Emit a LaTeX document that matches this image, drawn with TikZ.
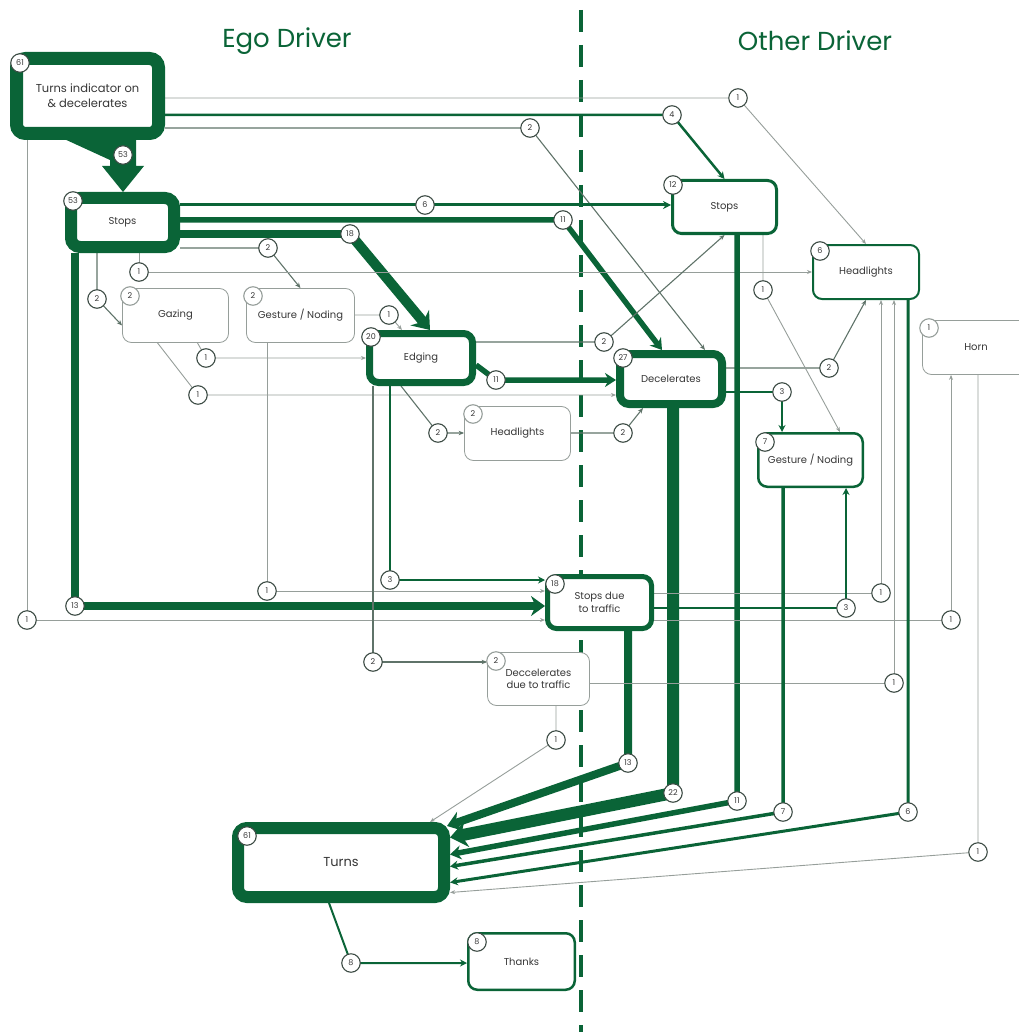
\documentclass[tikz,border=0pt]{standalone}
\usepackage{fontspec}
\setmainfont{Poppins}
\usetikzlibrary{arrows.meta,calc}
\definecolor{G}{RGB}{10,100,55}
\definecolor{lgr}{RGB}{150,158,154}
\definecolor{mgr}{RGB}{95,115,105}
\definecolor{bd}{RGB}{60,75,68}
\definecolor{txt}{RGB}{55,55,55}
\pgfdeclarelayer{dashl}
\pgfdeclarelayer{bg}
\pgfsetlayers{dashl,bg,main}
\begin{document}
\begin{tikzpicture}[x=1pt,y=-1pt,
  box/.style={draw=G, fill=white, rounded corners=9pt, align=center, inner sep=2pt,
    font=\fontsize{10}{12.5}\selectfont, text=txt},
  thinbox/.style={box, draw=lgr, line width=0.8pt},
  badge/.style={circle, draw=bd, fill=white, line width=1.1pt, minimum size=18.5pt, inner sep=0pt,
    font=\fontsize{8}{8}\selectfont, text=txt},
  lbadge/.style={badge, draw=lgr},
  w1/.style={draw=lgr, line width=0.9pt, -{Stealth[length=5pt,width=4pt]}},
  w2/.style={draw=mgr, line width=1.1pt, -{Stealth[length=5.5pt,width=4.5pt]}},
  w3/.style={draw=G, line width=2pt, -{Stealth[length=7pt,width=7pt]}},
  w4/.style={draw=G, line width=2.5pt, -{Stealth[length=7pt,width=7pt]}},
  w6/.style={draw=G, line width=3pt, -{Stealth[length=8pt,width=8pt]}},
  w7/.style={draw=G, line width=3.5pt, -{Stealth[length=8pt,width=9pt]}},
  w11/.style={draw=G, line width=5.5pt, -{Stealth[length=11pt,width=14pt]}},
  w13/.style={draw=G, line width=8pt, -{Stealth[length=14pt,width=20pt]}},
  w18/.style={draw=G, line width=10pt, -{Stealth[length=16pt,width=24pt]}},
  w22/.style={draw=G, line width=12pt, -{Stealth[length=17pt,width=26pt]}},
  title/.style={font=\fontsize{26}{30}\selectfont, text=G}
]
\useasboundingbox (0,0) rectangle (1018,1032);

% titles
\node[title] (tego) at (287,41) {Ego Driver};
\node[title] (toth) at (815,41) {Other Driver};

% separator
\coordinate (sepT) at (581,10);
\coordinate (sepB) at (581,1032);
\begin{pgfonlayer}{dashl}
\draw[G, line width=4pt, dash pattern=on 22pt off 13pt] (sepT) -- (sepB);
\end{pgfonlayer}

% boxes
\node[box, line width=13pt, minimum width=142pt, minimum height=75pt,
      font=\fontsize{11.5}{15}\selectfont] (init) at (87.5,96) {Turns indicator on\\\& decelerates};
\node[box, line width=12pt, minimum width=103pt, minimum height=49pt] (stops) at (122.5,222.5) {Stops};
\node[box, line width=12pt, minimum width=206pt, minimum height=69pt,
      font=\fontsize{13}{15}\selectfont] (turns) at (341,862.5) {Turns};
\node[box, line width=8pt, minimum width=102pt, minimum height=50pt] (dec) at (671,379) {Decelerates};
\node[box, line width=7pt, minimum width=103pt, minimum height=49pt] (edg) at (421,358) {Edging};
\node[box, line width=5pt, minimum width=104pt, minimum height=52pt] (std) at (599.5,602.5) {Stops due\\to traffic};
\node[box, line width=3pt, minimum width=104pt, minimum height=53pt] (ostops) at (724.5,207) {Stops};
\node[box, line width=2.5pt, minimum width=106.5pt, minimum height=56.5pt] (thanks) at (521.5,961.5) {Thanks};
\node[box, line width=2.5pt, minimum width=104.5pt, minimum height=53.5pt] (geso) at (810.5,460) {Gesture / Noding};
\node[box, line width=2pt, minimum width=106pt, minimum height=54pt] (ohl) at (866,272) {Headlights};
\node[thinbox, minimum width=107pt, minimum height=54pt] (horn) at (976,347.5) {Horn};
\node[thinbox, minimum width=106pt, minimum height=54pt] (gaz) at (175.5,315.5) {Gazing};
\node[thinbox, minimum width=108pt, minimum height=54pt] (gese) at (300.5,315.5) {Gesture / Noding};
\node[thinbox, minimum width=106pt, minimum height=54pt] (hle) at (517.5,433.5) {Headlights};
\node[thinbox, minimum width=102pt, minimum height=53pt] (ddt) at (538.5,679) {Deccelerates\\due to traffic};

% badge positions on connectors
\coordinate (b53) at (123,155);
\coordinate (b1a) at (738,98);
\coordinate (b4) at (672,115);
\coordinate (b2a) at (530,128);
\coordinate (b6) at (425,205);
\coordinate (b11a) at (563,220);
\coordinate (b18) at (350,234);
\coordinate (b2b) at (268,248);
\coordinate (b2c) at (97,299);
\coordinate (b1b) at (139,272);
\coordinate (b1c) at (27,620);
\coordinate (b1d) at (951,620);
\coordinate (b1e) at (978,852);
\coordinate (b1f) at (206,358);
\coordinate (b1g) at (198,395);
\coordinate (b1h) at (389,315);
\coordinate (b1i) at (267,591);
\coordinate (b11b) at (496,380);
\coordinate (b2d) at (604,342);
\coordinate (b3a) at (390,580);
\coordinate (b2e) at (373,662);
\coordinate (b2f) at (438,433);
\coordinate (b2g) at (623,433);
\coordinate (b2h) at (829,368);
\coordinate (b3b) at (782,392);
\coordinate (b1j) at (763,290);
\coordinate (b1k) at (881,593);
\coordinate (b3c) at (846,608);
\coordinate (b1l) at (894,683);
\coordinate (b1m) at (556,740);
\coordinate (b13b) at (628,763);
\coordinate (b22) at (673,793);
\coordinate (b11c) at (737,801);
\coordinate (b7) at (783,812);
\coordinate (b6b) at (908,812);
\coordinate (b13a) at (75,606);
\coordinate (b8) at (351,963);

\begin{pgfonlayer}{bg}
% from Init
\draw[w1] (b1a -| init.east) -- (b1a) -- (ohl.north);
\draw[w4] (b4 -| init.east) -- (b4) -- (ostops.north);
\draw[w2] (b2a -| init.east) -- (b2a) -- ([xshift=34pt]dec.north);
\draw[w1] (b1c |- init.south) -- (b1c) -- (b1c -| std.west);
% from ego Stops
\draw[w6] (b6 -| stops.east) -- (b6) -- (b6 -| ostops.west);
\draw[w11] (b11a -| stops.east) -- (b11a) -- ([xshift=-9pt]dec.north);
\draw[draw=G, line width=8pt] (b18 -| stops.east) -- (b18);
\draw[w18] (b18) -- ([xshift=9pt]edg.north);
\draw[w2] (b2b -| stops.east) -- (b2b) -- (gese.north);
\draw[w2] (b2c |- stops.south) -- (b2c) -- ([yshift=-10pt]gaz.west);
\draw[w1] (b1b |- stops.south) -- (b1b) -- (b1b -| ohl.west);
\draw[w13] (b13a |- stops.south) -- (b13a) -- (b13a -| std.west);
% from Gazing
\draw[w1] ([xshift=22pt]gaz.south) -- (b1f) -- (b1f -| edg.west);
\draw[w1] ([xshift=-18pt]gaz.south) -- (b1g) -- (b1g -| dec.west);
% from ego Gesture
\draw[w1] (b1h -| gese.east) -- (b1h) -- ([xshift=-19pt]edg.north);
\draw[w1] (b1i |- gese.south) -- (b1i) -- (b1i -| std.west);
% from Edging
\draw[w11] ([yshift=-7pt]edg.east) -- (b11b) -- (b11b -| dec.west);
\draw[w2] (b2d -| edg.east) -- (b2d) -- (ostops.south);
\draw[w3] (b3a |- edg.south) -- (b3a) -- (b3a -| std.west);
\draw[w2] (b2e |- edg.south) -- (b2e) -- (b2e -| ddt.west);
\draw[w2] ([xshift=-20pt]edg.south) -- (b2f) -- (b2f -| hle.west);
% from ego Headlights
\draw[w2] (b2g -| hle.east) -- (b2g) -- ([xshift=-28pt]dec.south);
% from Decelerates
\draw[w2] (b2h -| dec.east) -- (b2h) -- (ohl.south);
\draw[w3] (b3b -| dec.east) -- (b3b) -- (b3b |- geso.north);
\draw[w22] (b22 |- dec.south) -- (b22) -- ([yshift=25pt]turns.east);
% from other Stops
\draw[w1] (b1j |- ostops.south) -- (b1j) -- ([xshift=29.5pt]geso.north);
\draw[w11] (b11c |- ostops.south) -- (b11c) -- ([yshift=8pt]turns.east);
% from Stops due to traffic
\draw[w1] (b1k -| std.east) -- (b1k) -- (b1k |- ohl.south);
\draw[w3] (b3c -| std.east) -- (b3c) -- (b3c |- geso.south);
\draw[w1] (b1d -| std.east) -- (b1d) -- (b1d |- horn.south);
\draw[w13] (b13b |- std.south) -- (b13b) -- ([shift={(-3pt,-4pt)}]turns.north east);
% from Deccelerates due to traffic
\draw[w1] (b1l -| ddt.east) -- (b1l) -- (b1l |- ohl.south);
\draw[w1] (b1m |- ddt.south) -- (b1m) -- ([xshift=-20pt]turns.north east);
% from other Gesture
\draw[w7] (b7 |- geso.south) -- (b7) -- ([yshift=-4pt]turns.east);
% from other Headlights
\draw[w6] (b6b |- ohl.south) -- (b6b) -- ([yshift=-20pt]turns.east);
% from Horn
\draw[w1] (b1e |- horn.south) -- (b1e) -- ([yshift=-30pt]turns.east);
% from Turns
\draw[w3] ([xshift=-12pt]turns.south) -- (b8) -- (b8 -| thanks.west);
\end{pgfonlayer}

% Init -> Stops (53)
\fill[G] (62,138) -- (136,138) -- (136,166) -- (144,166) -- (123,192) -- (102,166) -- (110,166) -- (110,160) -- cycle;

% connector badges
\foreach \c/\t in {b53/53,b1a/1,b4/4,b2a/2,b6/6,b11a/11,b18/18,b2b/2,b2c/2,b1b/1,b1c/1,b1d/1,b1e/1,
  b1f/1,b1g/1,b1h/1,b1i/1,b11b/11,b2d/2,b3a/3,b2e/2,b2f/2,b2g/2,b2h/2,b3b/3,b1j/1,b1k/1,b3c/3,
  b1l/1,b1m/1,b13b/13,b22/22,b11c/11,b7/7,b6b/6,b13a/13,b8/8}
  \node[badge] (n\c) at (\c) {\t};

% box count badges
\node[badge] (cinit) at (20,63) {61};
\node[badge] (cstops) at (73,201) {53};
\node[badge] (cturns) at (247,836) {61};
\node[badge] (cdec) at (623,358) {27};
\node[badge] (cedg) at (371,337) {20};
\node[badge] (cstd) at (555,584) {18};
\node[badge] (costops) at (673,185) {12};
\node[badge] (cthanks) at (477,942) {8};
\node[badge] (cgeso) at (765,442) {7};
\node[badge] (cohl) at (820,251) {6};
\node[lbadge] (chorn) at (929,328) {1};
\node[lbadge] (cgaz) at (130,296) {2};
\node[lbadge] (cgese) at (253,296) {2};
\node[lbadge] (chle) at (473,414) {2};
\node[lbadge] (cddt) at (496,661) {2};
\end{tikzpicture}
\end{document}
